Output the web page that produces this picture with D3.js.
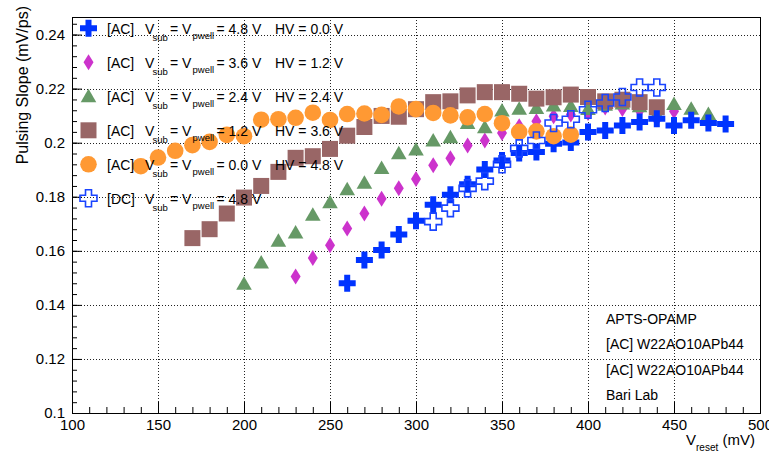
<!DOCTYPE html>
<html>
<head>
<meta charset="utf-8">
<script src="https://cdn.jsdelivr.net/npm/d3@7"></script>
<style>
  body { margin: 0; background: #fff; }
  svg { display: block; }
  text { font-family: "Liberation Sans", Arial, Helvetica, sans-serif; fill: #000; }
</style>
</head>
<body>
<svg id="chart" width="769" height="452"></svg>
<script>
// ---- Data: pulsing slope (mV/ps) vs V_reset (mV) ----
const acSub48X = [260,270,280,290,300,310,320,330,340,350,360,370,380,390,400,410,420,430,440,450,460,470,480];
const acSub48Y = [0.1480,0.1566,0.1603,0.1660,0.1711,0.1770,0.1807,0.1846,0.1901,0.1934,0.1962,0.1966,0.1996,0.2001,0.2040,0.2045,0.2064,0.2077,0.2089,0.2064,0.2083,0.2073,0.2069];

const acSub36X = [230,240,250,260,270,280,290,300,310,320,330,340,350,360,370,380,390,400,410,420,430,440,450,460,470];
const acSub36Y = [0.1505,0.1573,0.1621,0.1683,0.1738,0.1793,0.1831,0.1866,0.1917,0.1942,0.1990,0.2008,0.2036,0.2061,0.2079,0.2098,0.2104,0.2110,0.2130,0.2125,0.2119,0.2087,0.2116,0.2119,0.2098];

const acSub24X = [200,210,220,230,240,250,260,270,280,290,300,310,320,330,340,350,360,370,380,390,400,410,420,430,440,450,460,470];
const acSub24Y = [0.1478,0.1557,0.1637,0.1668,0.1733,0.1780,0.1828,0.1852,0.1906,0.1961,0.1975,0.2008,0.2020,0.2073,0.2057,0.2119,0.2126,0.2128,0.2138,0.2136,0.2125,0.2140,0.2145,0.2135,0.2105,0.2143,0.2126,0.2106];

const acSub12X = [170,180,190,200,210,220,230,240,250,260,270,280,290,300,310,320,330,340,350,360,370,380,390,400,410,420,430,440];
const acSub12Y = [0.1647,0.1680,0.1738,0.1797,0.1840,0.1892,0.1944,0.1950,0.1977,0.2026,0.2058,0.2099,0.2096,0.2124,0.2150,0.2153,0.2175,0.2187,0.2187,0.2181,0.2163,0.2168,0.2178,0.2169,0.2153,0.2159,0.2150,0.2131];

const acSub00X = [140,150,160,170,180,190,200,210,220,230,240,250,260,270,280,290,300,310,320,330,340,350,360,370,380,390];
const acSub00Y = [0.1913,0.1945,0.1970,0.1991,0.2003,0.2029,0.2024,0.2085,0.2087,0.2092,0.2111,0.2084,0.2106,0.2108,0.2103,0.2134,0.2124,0.2110,0.2101,0.2094,0.2106,0.2072,0.2040,0.2042,0.2024,0.2030];

const dcSub48X = [310,320,330,340,350,360,370,380,390,400,410,420,430,440];
const dcSub48Y = [0.1708,0.1758,0.1831,0.1858,0.1920,0.1979,0.2008,0.2073,0.2087,0.2122,0.2147,0.2169,0.2204,0.2204];

// Axis ticks and labels
const xMajorTicks = [100,150,200,250,300,350,400,450,500];
const yMajorTicks = [0.10,0.12,0.14,0.16,0.18,0.20,0.22,0.24];
const infoLines = ["APTS-OPAMP", "[AC] W22AO10APb44", "[AC] W22AO10APb44", "Bari Lab"];

// Legend entries: [tag, Vsub, HV]
const legendTags = ["[AC]", "[AC]", "[AC]", "[AC]", "[AC]", "[DC]"];
const legendVsub = ["4.8", "3.6", "2.4", "1.2", "0.0", "4.8"];
const legendHV = ["0.0", "1.2", "2.4", "3.6", "4.8", null];

// ---- Layout ----
const frame = { left: 72, right: 760, top: 17, bottom: 413 };
const svg = d3.select("#chart");

const x = d3.scaleLinear().domain([100, 500]).range([frame.left, frame.right]);
const y = d3.scaleLinear().domain([0.1, 0.2465]).range([frame.bottom, frame.top]);

// ---- Marker shapes ----
const crossPath = (s, a) =>
  `M${-a},${-s}H${a}V${-a}H${s}V${a}H${a}V${s}H${-a}V${a}H${-s}V${-a}H${-a}Z`;
const markers = {
  fullCross: { d: crossPath(8.5, 3), fill: "#0033ff", stroke: "none" },
  diamond:   { d: "M0,-8L5,0L0,8L-5,0Z", fill: "#cc33cc", stroke: "none" },
  triangle:  { d: "M0,-7.5L7.8,6L-7.8,6Z", fill: "#669966", stroke: "none" },
  square:    { d: "M-8,-8H8V8H-8Z", fill: "#996666", stroke: "none" },
  circle:    { d: d3.symbol(d3.symbolCircle, Math.PI * 8.3 * 8.3)(), fill: "#ff9933", stroke: "none" },
  openCross: { d: crossPath(8.5, 3), fill: "none", stroke: "#1a44ff", width: 1.6 }
};

const series = [
  { xs: acSub36X, ys: acSub36Y, m: markers.diamond },
  { xs: acSub24X, ys: acSub24Y, m: markers.triangle },
  { xs: acSub12X, ys: acSub12Y, m: markers.square },
  { xs: acSub48X, ys: acSub48Y, m: markers.fullCross },
  { xs: acSub00X, ys: acSub00Y, m: markers.circle },
  { xs: dcSub48X, ys: dcSub48Y, m: markers.openCross }
];
const legendMarkers = [markers.fullCross, markers.diamond, markers.triangle, markers.square, markers.circle, markers.openCross];

// ---- Grid ----
const grid = svg.append("g").attr("stroke", "#222").attr("stroke-width", 1).attr("stroke-dasharray", "1,2");
grid.selectAll("line.gx").data(xMajorTicks.slice(1, -1)).join("line")
  .attr("x1", d => Math.round(x(d)) + 0.5).attr("x2", d => Math.round(x(d)) + 0.5)
  .attr("y1", frame.top).attr("y2", frame.bottom);
grid.selectAll("line.gy").data(yMajorTicks.slice(1)).join("line")
  .attr("y1", d => Math.round(y(d)) + 0.5).attr("y2", d => Math.round(y(d)) + 0.5)
  .attr("x1", frame.left).attr("x2", frame.right);

// ---- Axes (ticks point inward) ----
const fmtY = d => String(+d.toFixed(2));
const xMinor = d3.range(100, 501, 10);
const yMinor = d3.range(0, 37).map(i => 0.1 + i * 0.004).filter(v => v <= 0.2465);

const xAxisG = svg.append("g").attr("transform", `translate(0,${frame.bottom})`);
xAxisG.append("g").call(d3.axisBottom(x).tickValues(xMinor).tickSize(-6).tickFormat(""));
xAxisG.append("g").call(d3.axisBottom(x).tickValues(xMajorTicks).tickSize(-11).tickPadding(6).tickFormat(d3.format("d")));
xAxisG.selectAll(".domain").remove();
xAxisG.selectAll("text").attr("font-size", 15);
xAxisG.selectAll("line").attr("stroke", "#000");

const yAxisG = svg.append("g").attr("transform", `translate(${frame.left},0)`);
yAxisG.append("g").call(d3.axisLeft(y).tickValues(yMinor).tickSize(-5).tickFormat(""));
yAxisG.append("g").call(d3.axisLeft(y).tickValues(yMajorTicks).tickSize(-10).tickPadding(7).tickFormat(fmtY));
yAxisG.selectAll(".domain").remove();
yAxisG.selectAll("text").attr("font-size", 15);
yAxisG.selectAll("line").attr("stroke", "#000");

// ---- Data markers ----
const plot = svg.append("g");
series.forEach(s => {
  plot.append("g").selectAll("path")
    .data(s.xs.map((v, i) => [v, s.ys[i]]))
    .join("path")
    .attr("d", s.m.d)
    .attr("transform", d => `translate(${x(d[0])},${y(d[1])})`)
    .attr("fill", s.m.fill)
    .attr("stroke", s.m.stroke)
    .attr("stroke-width", s.m.width || 0);
});

// ---- Frame ----
svg.append("rect")
  .attr("x", frame.left + 0.5).attr("y", frame.top + 0.5)
  .attr("width", frame.right - frame.left).attr("height", frame.bottom - frame.top)
  .attr("fill", "none").attr("stroke", "#000").attr("stroke-width", 1);

// ---- Axis titles ----
svg.append("text")
  .attr("transform", "translate(28,6) rotate(-90)")
  .attr("text-anchor", "end").attr("font-size", 16)
  .text("Pulsing Slope (mV/ps)");

const xt = svg.append("text").attr("x", 686).attr("y", 445).attr("font-size", 15);
xt.append("tspan").text("V");
xt.append("tspan").attr("font-size", 10).attr("dy", 6).text("reset");
xt.append("tspan").attr("dy", -6).text(" (mV)");

// ---- Legend ----
const legend = svg.append("g");
const rowY0 = 28.3, rowStep = 34;
legendTags.forEach((tag, i) => {
  const cy = rowY0 + i * rowStep;
  const m = legendMarkers[i];
  legend.append("path").attr("d", m.d)
    .attr("transform", `translate(88.5,${cy})`)
    .attr("fill", m.fill).attr("stroke", m.stroke).attr("stroke-width", m.width || 0);
  const base = cy + 5.5;
  const t = legend.append("text").attr("font-size", 14).attr("y", base);
  t.append("tspan").attr("x", 107).text(tag);
  t.append("tspan").attr("x", 145).text("V");
  t.append("tspan").attr("x", 152.5).attr("y", base + 7.5).attr("font-size", 9.5).text("sub");
  t.append("tspan").attr("x", 170).attr("y", base).text("= V");
  t.append("tspan").attr("x", 192.5).attr("y", base + 5.5).attr("font-size", 9.5).text("pwell");
  t.append("tspan").attr("x", 216.5).attr("y", base).text(`= ${legendVsub[i]} V`);
  if (legendHV[i] !== null) {
    t.append("tspan").attr("x", 275).text(`HV = ${legendHV[i]} V`);
  }
});

// ---- Info text ----
svg.append("g").selectAll("text").data(infoLines).join("text")
  .attr("x", 606).attr("y", (d, i) => 324 + i * 25.3)
  .attr("font-size", 14)
  .text(d => d);
</script>
</body>
</html>
